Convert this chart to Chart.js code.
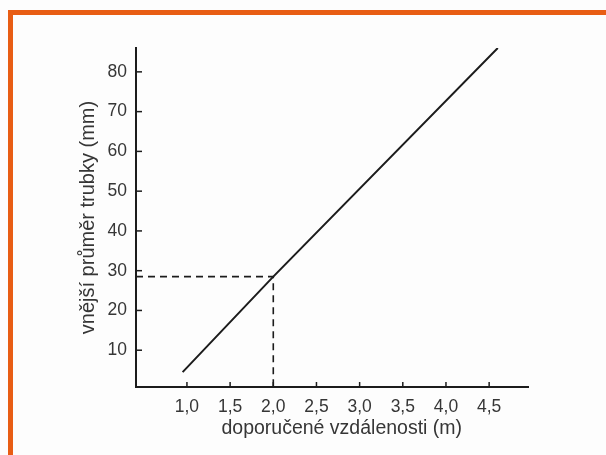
<!DOCTYPE html>
<html>
<head>
<meta charset="utf-8">
<script src="https://cdn.jsdelivr.net/npm/chart.js@4"></script>
<style>
  body { margin: 0; background: #fdfdfd; }
  #frame { position: absolute; left: 8px; top: 10px; right: 0; bottom: 0;
           border-left: 5px solid #e85d14; border-top: 5px solid #e85d14; }
  #wrap { position: absolute; left: 0; top: 0; width: 606px; height: 455px; }
</style>
</head>
<body>
<div id="frame"></div>
<div id="wrap"><canvas id="chart_pipe"></canvas></div>
<script>
// values
const lineX = [0.95, 2.0, 4.6];
const lineY = [4.5, 28.5, 86.0];
const guideX = [0.41, 2.0, 2.0];
const guideY = [28.5, 28.5, 0.75];
const xTicks = [1.0, 1.5, 2.0, 2.5, 3.0, 3.5, 4.0, 4.5];
const yTicks = [10, 20, 30, 40, 50, 60, 70, 80];

const textColor = "#363636";
const inkColor = "#1c1c1c";

// short tick marks pointing into the plot, like the printed original
const innerTicks = {
    id: "innerTicks",
    afterDraw(chart) {
        const ctx = chart.ctx;
        const xs = chart.scales.x, ys = chart.scales.y;
        ctx.save();
        ctx.strokeStyle = inkColor;
        ctx.lineWidth = 1.5;
        xTicks.forEach(v => {
            let px = xs.getPixelForValue(v);
            ctx.beginPath();
            ctx.moveTo(px, xs.top);
            ctx.lineTo(px, xs.top - 5);
            ctx.stroke();
        });
        yTicks.forEach(v => {
            let py = ys.getPixelForValue(v);
            ctx.beginPath();
            ctx.moveTo(ys.right, py);
            ctx.lineTo(ys.right + 6, py);
            ctx.stroke();
        });
        ctx.restore();
    }
};

const chart_pipe = new Chart("chart_pipe", {
    type: "scatter",
    data: {
        datasets: [{
            data: lineX.map((x, i) => ({x: x, y: lineY[i]})),
            showLine: true,
            borderColor: inkColor,
            borderWidth: 2,
            pointRadius: 0,
            tension: 0
        },
        {
            data: guideX.map((x, i) => ({x: x, y: guideY[i]})),
            showLine: true,
            borderColor: inkColor,
            borderWidth: 1.6,
            borderDash: [7, 5],
            pointRadius: 0,
            tension: 0
        }]
    },
    options: {
        responsive: true,
        maintainAspectRatio: false,
        animation: false,
        layout: {padding: {top: 48, right: 78, left: 0, bottom: 0}},
        plugins: {legend: {display: false}, tooltip: {enabled: false}},
        scales: {
            x: {
                type: "linear",
                min: 0.41,
                max: 4.95,
                afterFit(scale) { scale.height = 68; },
                afterBuildTicks(scale) { scale.ticks = xTicks.map(v => ({value: v})); },
                grid: {display: false, drawTicks: false},
                border: {display: true, color: inkColor, width: 2},
                ticks: {
                    color: textColor,
                    padding: 10,
                    maxRotation: 0,
                    font: {family: "Liberation Sans", size: 17.5},
                    callback: v => v.toFixed(1).replace(".", ",")
                },
                title: {
                    display: true,
                    // leading en spaces nudge the centred title right, as in the original
                    text: "\u2002\u2002doporučené vzdálenosti (m)",
                    color: textColor,
                    font: {family: "Liberation Sans", size: 19.5},
                    padding: {top: 0, bottom: 15}
                }
            },
            y: {
                type: "linear",
                min: 0.75,
                max: 86,
                afterFit(scale) { scale.width = 136; },
                afterBuildTicks(scale) { scale.ticks = yTicks.map(v => ({value: v})); },
                grid: {display: false, drawTicks: false},
                border: {display: true, color: inkColor, width: 2},
                ticks: {
                    color: textColor,
                    padding: 9,
                    font: {family: "Liberation Sans", size: 17.5}
                },
                title: {
                    display: true,
                    text: "vnější průměr trubky (mm)",
                    color: textColor,
                    font: {family: "Liberation Sans", size: 20},
                    padding: {top: 76, bottom: 0}
                }
            }
        }
    },
    plugins: [innerTicks]
});
</script>
</body>
</html>
